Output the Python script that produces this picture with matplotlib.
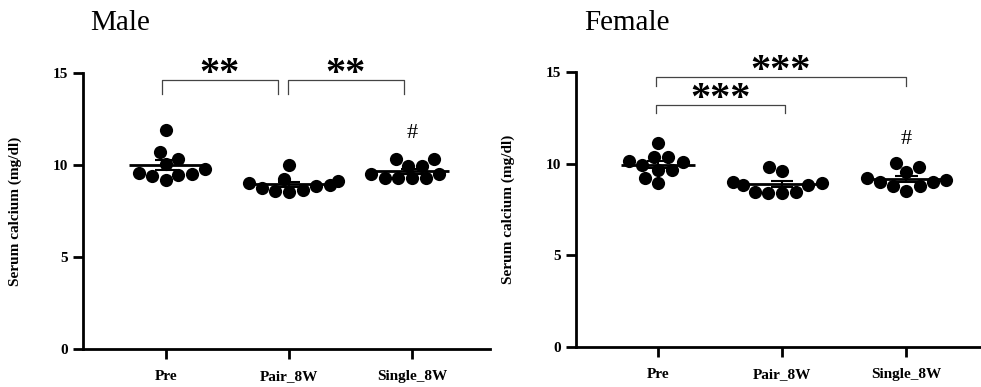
import numpy as np, pandas as pd
import matplotlib
matplotlib.use('Agg')
import matplotlib.pyplot as plt
import seaborn as sns

# 数据：血清钙 (mg/dl)，每组 10 只
groups = ["Pre", "Pair_8W", "Single_8W"]
male_pre = [11.9, 10.7, 10.35, 10.05, 9.77, 9.55, 9.4, 9.18, 9.46, 9.49]
male_pair = [10.0, 9.22, 9.13, 9.0, 8.9, 8.85, 8.75, 8.65, 8.55, 8.6]
male_single = [10.31, 10.31, 9.96, 9.96, 9.51, 9.51, 9.28, 9.28, 9.28, 9.28]
female_pre = [11.11, 10.34, 10.34, 10.1, 10.12, 9.65, 9.65, 8.93, 9.2, 9.9]
female_pair = [9.83, 9.62, 8.84, 8.84, 8.93, 8.99, 8.47, 8.38, 8.38, 8.47]
female_single = [10.02, 9.83, 9.56, 9.2, 9.01, 9.0, 9.1, 8.77, 8.53, 8.77]

plt.rcParams['font.family'] = ['Liberation Serif', 'DejaVu Serif']

fig = plt.figure(figsize=(9.81, 3.87), dpi=100)
ax_m = fig.add_axes([0.0846, 0.0982, 0.4149, 0.7132])
ax_f = fig.add_axes([0.5872, 0.1034, 0.4128, 0.7106])


def panel(ax, title, values, xlim, title_x):
    df = pd.DataFrame({"group": np.repeat(groups, [len(v) for v in values]),
                       "val": np.concatenate(values)})
    sns.swarmplot(data=df, x="group", y="val", order=groups, ax=ax,
                  color="black", size=9.5, linewidth=0, warn_thresh=1)
    # 均值线 + SEM
    for i, v in enumerate(values):
        v = np.asarray(v)
        m = v.mean()
        se = v.std(ddof=1) / np.sqrt(len(v))
        ax.hlines(m, i - 0.3, i + 0.3, color="black", lw=2, zorder=4)
        ax.hlines([m - se, m + se], i - 0.09, i + 0.09, color="black", lw=1.5, zorder=4)
        ax.vlines(i, m - se, m + se, color="black", lw=1.5, zorder=4)
    ax.set_ylim(0, 15)
    ax.set_xlim(*xlim)
    ax.set_yticks([0, 5, 10, 15])
    ax.set_xlabel("")
    ax.set_ylabel("Serum calcium (mg/dl)", fontsize=11, fontweight="bold", labelpad=22)
    for s in ["top", "right"]:
        ax.spines[s].set_visible(False)
    for s in ["left", "bottom"]:
        ax.spines[s].set_linewidth(2)
    ax.tick_params(width=2, length=7, labelsize=11, pad=4)
    ax.tick_params(axis="x", pad=8)
    for lab in ax.get_xticklabels() + ax.get_yticklabels():
        lab.set_fontweight("bold")
    fig.text(title_x, 0.94, title, fontsize=21, ha="left", va="center")


def bracket(ax, x1, x2, y_top, y_leg, label, y_txt):
    ax.plot([x1, x1, x2, x2], [y_leg, y_top, y_top, y_leg], color="#444444",
            lw=0.9, clip_on=False)
    ax.text((x1 + x2) / 2, y_txt, label, ha="center", va="center",
            fontsize=29, fontweight="semibold", family=["Liberation Serif"],
            clip_on=False)


panel(ax_m, "Male", [male_pre, male_pair, male_single], (-0.67, 2.63), 0.092)
panel(ax_f, "Female", [female_pre, female_pair, female_single], (-0.66, 2.6), 0.596)

bracket(ax_m, -0.03, 0.91, 14.6, 13.85, "**", 14.9)
bracket(ax_m, 0.99, 1.93, 14.6, 13.85, "**", 14.9)
ax_m.text(2, 11.7, "#", ha="center", va="center", fontsize=16)

bracket(ax_f, -0.02, 2.0, 14.73, 14.24, "***", 15.0)
bracket(ax_f, -0.02, 1.02, 13.2, 12.75, "***", 13.5)
ax_f.text(2, 11.3, "#", ha="center", va="center", fontsize=16)

fig.savefig("out.png", dpi=100)
plt.close()
